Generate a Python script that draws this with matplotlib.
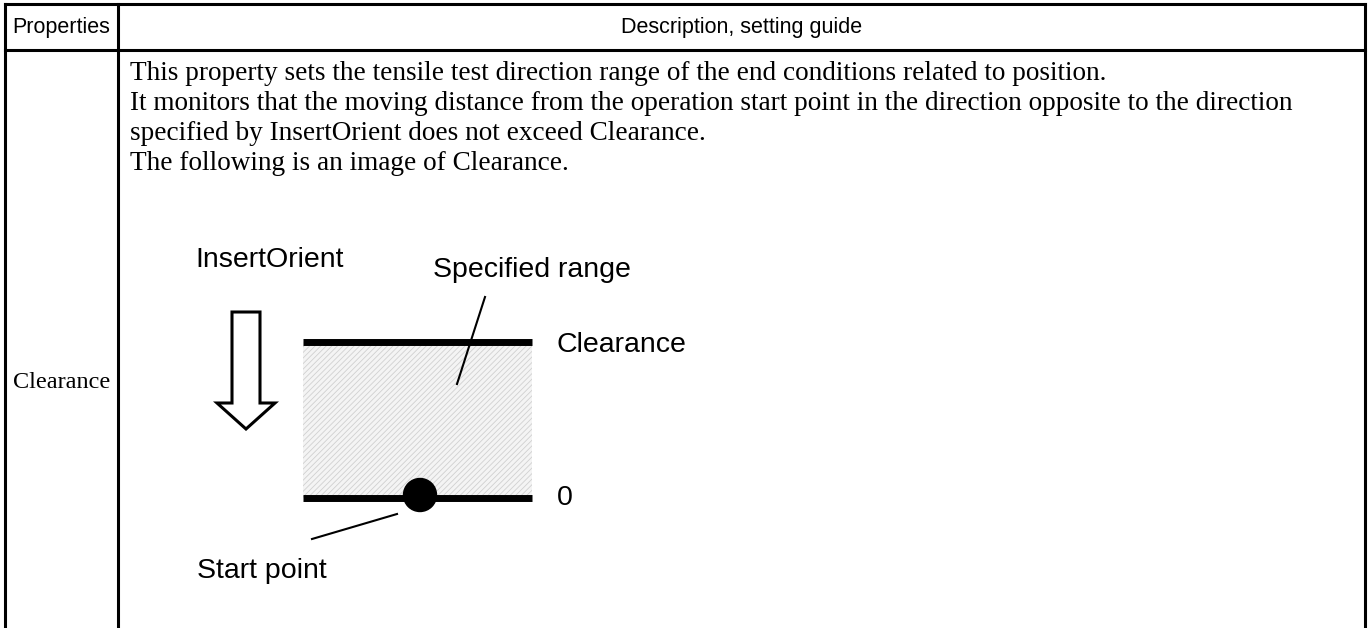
import matplotlib
matplotlib.use("Agg")
import matplotlib.pyplot as plt
from matplotlib.patches import Rectangle, Circle, Polygon

# table content
header_labels = ["Properties", "Description, setting guide"]
property_name = "Clearance"
body_lines = [
    "This property sets the tensile test direction range of the end conditions related to position.",
    "It monitors that the moving distance from the operation start point in the direction opposite to the direction",
    "specified by InsertOrient does not exceed Clearance.",
    "The following is an image of Clearance.",
]

# diagram labels
diagram_labels = ["InsertOrient", "Specified range", "Clearance", "0", "Start point"]

W, H = 1369, 628
fig = plt.figure(figsize=(W / 100, H / 100), dpi=100)
ax = fig.add_axes([0, 0, 1, 1])
ax.set_xlim(0, W)
ax.set_ylim(H, 0)
ax.axis("off")
plt.rcParams["hatch.linewidth"] = 0.6

serif = "Liberation Serif"
sans = "Liberation Sans"

# table grid
left, right, top, head_bot, col = 5, 1365, 4, 50, 118
lw_tab = 2.2
ax.plot([left, right], [top, top], color="black", lw=lw_tab, solid_capstyle="projecting")
ax.plot([left, right], [head_bot, head_bot], color="black", lw=lw_tab)
for x in (left, col, right):
    ax.plot([x, x], [top, H + 5], color="black", lw=lw_tab)

ax.text((left + col) / 2, 28, header_labels[0], family=sans, fontsize=15.5,
        ha="center", va="center")
ax.text((col + right) / 2, 28, header_labels[1], family=sans, fontsize=15.5,
        ha="center", va="center")
ax.text((left + col) / 2, 383, property_name, family=serif, fontsize=17.5,
        ha="center", va="center")

for i, line in enumerate(body_lines):
    ax.text(130, 80 + i * 30, line, family=serif, fontsize=19.6,
            ha="left", va="baseline")

# diagram: shaded range
rx0, rx1, ry_top, ry_bot = 303, 532, 342, 498
ax.add_patch(Rectangle((rx0, ry_top), rx1 - rx0, ry_bot - ry_top,
                       facecolor="#f4f4f4", edgecolor="#d0d0d0", hatch="//////",
                       lw=0))
ax.plot([rx0, rx1], [ry_top, ry_top], color="black", lw=5, solid_capstyle="butt")
ax.plot([rx0, rx1], [ry_bot, ry_bot], color="black", lw=5, solid_capstyle="butt")
ax.add_patch(Circle((420, 495), 16.5, color="black", zorder=5))

# hollow arrow
cx = 246
arrow = [(cx - 14, 312), (cx + 14, 312), (cx + 14, 403), (cx + 29, 403),
         (cx, 429), (cx - 29, 403), (cx - 14, 403)]
ax.add_patch(Polygon(arrow, closed=True, facecolor="white", edgecolor="black", lw=2.2))

# leader lines
ax.plot([485, 457], [297, 384], color="black", lw=1.5)
ax.plot([397, 312], [514, 539], color="black", lw=1.5)

fs_d = 20.5
ax.text(195, 267, diagram_labels[0], family=sans, fontsize=fs_d, va="baseline")
ax.text(433, 277, diagram_labels[1], family=sans, fontsize=fs_d, va="baseline")
ax.text(557, 352, diagram_labels[2], family=sans, fontsize=fs_d, va="baseline")
ax.text(557, 505, diagram_labels[3], family=sans, fontsize=fs_d, va="baseline")
ax.text(197, 578, diagram_labels[4], family=sans, fontsize=fs_d, va="baseline")

fig.savefig("out.png", dpi=100)
